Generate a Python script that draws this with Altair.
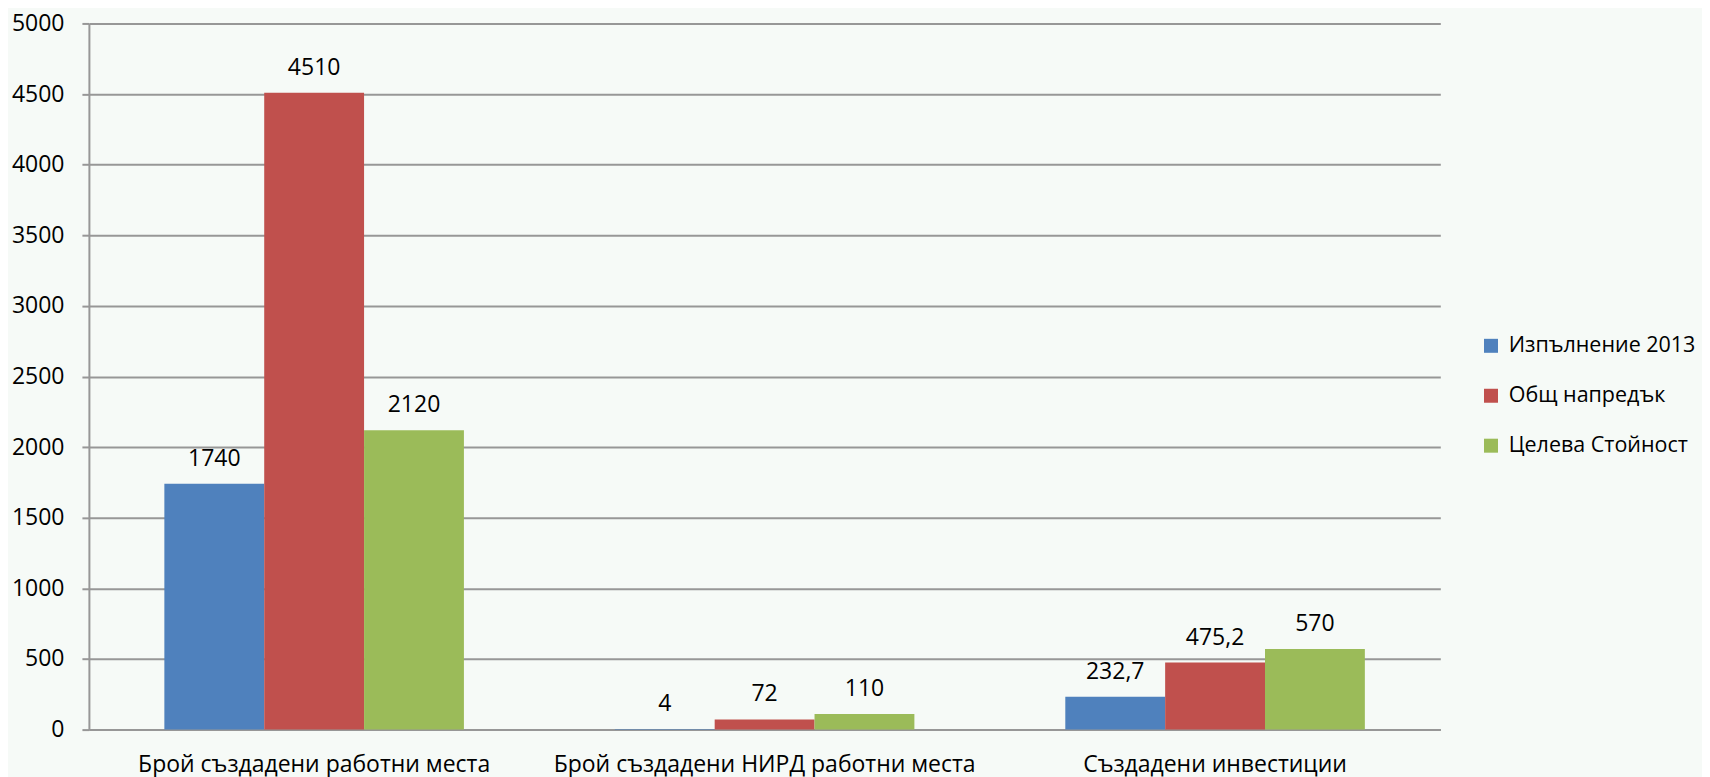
import altair as alt
import pandas as pd

categories = ["Брой създадени работни места", "Брой създадени НИРД работни места", "Създадени инвестиции"]
series = ["Изпълнение 2013", "Общ напредък", "Целева Стойност"]
values_2013 = [1740, 4, 232.7]
values_progress = [4510, 72, 475.2]
values_target = [2120, 110, 570]
colors = ["#4F81BD", "#C0504D", "#9BBB59"]
y_ticks = list(range(0, 5001, 500))


def fmt(v):
    if float(v).is_integer():
        return str(int(v))
    return str(v).replace(".", ",")


rows = []
for s, vals in zip(series, [values_2013, values_progress, values_target]):
    for c, v in zip(categories, vals):
        rows.append({"category": c, "series": s, "value": v, "label": fmt(v)})
df = pd.DataFrame(rows)

FONT = "Open Sans"
GRID = "#979797"

x_enc = alt.X(
    "category:N",
    sort=categories,
    scale=alt.Scale(paddingInner=0.335, paddingOuter=0.1675),
    axis=alt.Axis(
        title=None, labelAngle=0, ticks=False, labelPadding=24, labelFontSize=23,
        labelFont=FONT, labelColor="black", domainColor=GRID, domainWidth=2,
        labelLimit=0, grid=False,
    ),
)
xoff_enc = alt.XOffset("series:N", sort=series, scale=alt.Scale(paddingInner=0, paddingOuter=0))
y_enc = alt.Y(
    "value:Q",
    scale=alt.Scale(domain=[0, 5000], nice=False),
    axis=alt.Axis(
        values=y_ticks, format="d", title=None, labelFontSize=23, labelFont=FONT,
        labelColor="black", tickSize=7, tickColor=GRID, tickWidth=2, domainColor=GRID,
        domainWidth=2, gridColor=GRID, gridWidth=2, labelPadding=18,
    ),
)

bars = alt.Chart(df).mark_bar().encode(
    x=x_enc,
    xOffset=xoff_enc,
    y=y_enc,
    color=alt.Color(
        "series:N",
        sort=series,
        scale=alt.Scale(domain=series, range=colors),
        legend=alt.Legend(
            title=None, orient="none", legendX=1393, legendY=312, symbolType="square",
            symbolSize=196, symbolStrokeWidth=0, labelFontSize=21.5, labelFont=FONT,
            labelColor="black", rowPadding=27, labelOffset=7, labelLimit=0,
        ),
    ),
)

text = alt.Chart(df).mark_text(
    fontSize=23, font=FONT, baseline="alphabetic", dy=-18, color="black"
).encode(
    x=alt.X("category:N", sort=categories),
    xOffset=alt.XOffset("series:N", sort=series),
    y=alt.Y("value:Q"),
    text="label:N",
)

chart = (
    alt.layer(bars, text)
    .properties(
        width=1353,
        height=707,
        autosize=alt.AutoSizeParams(type="none"),
        padding={"left": 81, "top": 15, "right": 262, "bottom": 55},
        background="#F6FAF7",
    )
    .configure_view(stroke=None)
)

chart.save("out.html", embed_options={"renderer": "svg", "actions": False})
